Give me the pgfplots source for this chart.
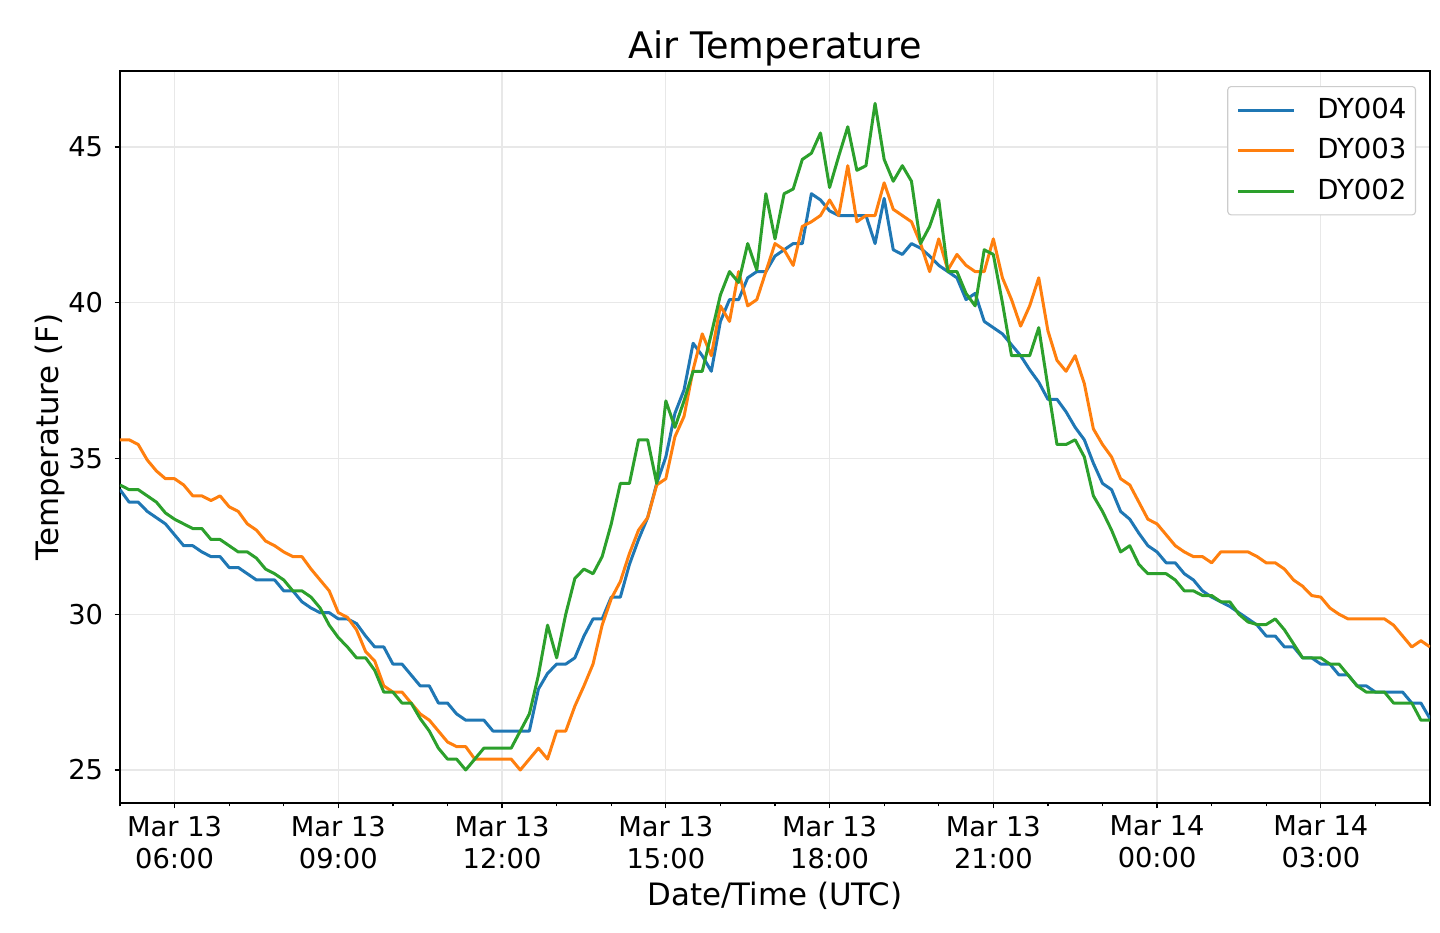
\documentclass[border=0pt]{standalone}
\usepackage{pgfplots}
\pgfplotsset{compat=1.18}
\usepackage{pgfplotstable}
\usepackage{fontspec}
\setmainfont{DejaVu Sans}
\definecolor{cA}{HTML}{1F77B4}
\definecolor{cB}{HTML}{FF7F0E}
\definecolor{cC}{HTML}{2CA02C}
% k = 10-minute step from Mar 13 05:00; b = DY004, o = DY003, g = DY002
\pgfplotstableread{
k b o g
0 34.0 35.6 34.15
1 33.6 35.6 34.0
2 33.6 35.45 34.0
3 33.3 34.95 33.8
4 33.1 34.6 33.6
5 32.9 34.35 33.25
6 32.55 34.35 33.05
7 32.2 34.15 32.9
8 32.2 33.8 32.75
9 32.0 33.8 32.75
10 31.85 33.65 32.4
11 31.85 33.8 32.4
12 31.5 33.45 32.2
13 31.5 33.3 32.0
14 31.3 32.9 32.0
15 31.1 32.7 31.8
16 31.1 32.35 31.45
17 31.1 32.2 31.3
18 30.75 32.0 31.1
19 30.75 31.85 30.75
20 30.4 31.85 30.75
21 30.2 31.45 30.55
22 30.05 31.1 30.2
23 30.05 30.75 29.65
24 29.85 30.05 29.25
25 29.85 29.9 28.95
26 29.7 29.5 28.6
27 29.3 28.8 28.6
28 28.95 28.5 28.2
29 28.95 27.7 27.5
30 28.4 27.5 27.5
31 28.4 27.5 27.15
32 28.05 27.15 27.15
33 27.7 26.8 26.65
34 27.7 26.6 26.25
35 27.15 26.25 25.7
36 27.15 25.9 25.35
37 26.8 25.75 25.35
38 26.6 25.75 25.0
39 26.6 25.35 25.35
40 26.6 25.35 25.7
41 26.25 25.35 25.7
42 26.25 25.35 25.7
43 26.25 25.35 25.7
44 26.25 25.0 26.25
45 26.25 25.35 26.8
46 27.6 25.7 28.05
47 28.1 25.35 29.65
48 28.4 26.25 28.6
49 28.4 26.25 30.0
50 28.6 27.05 31.15
51 29.3 27.7 31.45
52 29.85 28.4 31.3
53 29.85 29.65 31.85
54 30.55 30.5 32.9
55 30.55 31.05 34.2
56 31.6 31.95 34.2
57 32.4 32.7 35.6
58 33.1 33.1 35.6
59 34.2 34.15 34.2
60 35.05 34.35 36.85
61 36.45 35.7 36.0
62 37.2 36.35 36.85
63 38.7 37.85 37.8
64 38.3 39.0 37.8
65 37.8 38.3 39.0
66 39.4 39.9 40.25
67 40.1 39.4 41.0
68 40.1 41.0 40.65
69 40.8 39.9 41.9
70 41.0 40.1 41.05
71 41.0 41.0 43.5
72 41.5 41.9 42.05
73 41.7 41.7 43.5
74 41.9 41.2 43.65
75 41.9 42.45 44.6
76 43.5 42.6 44.8
77 43.3 42.8 45.45
78 42.95 43.3 43.7
79 42.8 42.8 44.7
80 42.8 44.4 45.65
81 42.8 42.6 44.25
82 42.8 42.8 44.4
83 41.9 42.8 46.4
84 43.35 43.85 44.6
85 41.7 43.0 43.9
86 41.55 42.8 44.4
87 41.9 42.6 43.9
88 41.75 41.9 41.9
89 41.5 41.0 42.45
90 41.2 42.05 43.3
91 41.0 41.05 41.0
92 40.8 41.55 41.0
93 40.1 41.2 40.3
94 40.3 41.0 39.9
95 39.4 41.0 41.7
96 39.2 42.05 41.55
97 39.0 40.8 40.0
98 38.65 40.1 38.3
99 38.3 39.25 38.3
100 37.85 39.9 38.3
101 37.45 40.8 39.2
102 36.9 39.1 37.3
103 36.9 38.15 35.45
104 36.5 37.8 35.45
105 36.0 38.3 35.6
106 35.6 37.4 35.05
107 34.85 35.95 33.8
108 34.2 35.45 33.3
109 34.0 35.05 32.7
110 33.3 34.35 32.0
111 33.05 34.15 32.2
112 32.6 33.6 31.6
113 32.2 33.05 31.3
114 32.0 32.9 31.3
115 31.65 32.55 31.3
116 31.65 32.2 31.1
117 31.3 32.0 30.75
118 31.1 31.85 30.75
119 30.75 31.85 30.6
120 30.55 31.65 30.6
121 30.4 32.0 30.4
122 30.25 32.0 30.4
123 30.05 32.0 30.0
124 29.85 32.0 29.75
125 29.65 31.85 29.67
126 29.3 31.65 29.67
127 29.3 31.65 29.85
128 28.95 31.45 29.5
129 28.95 31.1 29.05
130 28.6 30.9 28.6
131 28.6 30.6 28.6
132 28.4 30.55 28.6
133 28.4 30.2 28.4
134 28.05 30.0 28.4
135 28.05 29.85 28.05
136 27.7 29.85 27.7
137 27.7 29.85 27.5
138 27.5 29.85 27.5
139 27.5 29.85 27.5
140 27.5 29.65 27.15
141 27.5 29.3 27.15
142 27.15 28.95 27.15
143 27.15 29.15 26.6
144 26.65 28.95 26.6
}\airtemp
\begin{document}
\begin{tikzpicture}
\path[use as bounding box] (0pt,0pt) rectangle (527.47pt,341.76pt);
\begin{axis}[
  at={(43.956pt,47.619pt)}, anchor=south west,
  scale only axis, width=479.85pt, height=268.13pt,
  xmin=5, xmax=29, ymin=23.94, ymax=47.44,
  xtick={6,9,12,15,18,21,24,27},
  xticklabels={{Mar 13\\06:00},{Mar 13\\09:00},{Mar 13\\12:00},{Mar 13\\15:00},{Mar 13\\18:00},{Mar 13\\21:00},{Mar 14\\00:00},{Mar 14\\03:00}},
  minor xtick={5,7,8,10,11,13,14,16,17,19,20,22,23,25,26,28,29},
  ytick={25,30,35,40,45},
  tick align=outside, tick pos=left,
  major tick length=2.0pt, minor tick length=1.2pt,
  every tick/.style={black, line width=0.45pt},
  grid=major,
  major grid style={black!9, line width=0.45pt},
  axis line style={line width=0.55pt},
  /pgf/number format/assume math mode=true,
  ticklabel style={font=\fontsize{10}{11.7}\selectfont},
  xticklabel style={align=center, inner sep=0pt, yshift=-2.5pt},
  yticklabel style={inner sep=0pt, xshift=-4pt},
  title={Air Temperature},
  title style={font=\fontsize{13.4}{16}\selectfont, at={(axis description cs:0.5,1)}, anchor=base, yshift=-1.6pt},
  xlabel={Date/Time (UTC)},
  xlabel style={font=\fontsize{11.3}{13}\selectfont, at={(axis description cs:0.5,0)}, anchor=base, yshift=-37.4pt},
  ylabel={Temperature (F)},
  ylabel style={font=\fontsize{11.3}{13}\selectfont, at={(axis description cs:-0.0466,0.5)}, anchor=base},
  legend image code/.code={\draw[#1] (0pt,0pt) -- (20.5pt,0pt); \path (28.4pt,0pt);},
  legend style={at={(axis description cs:1,1)}, anchor=north east, xshift=-5.1pt, yshift=-5.5pt,
    draw=black!20, line width=0.4pt, rounded corners=1.2pt, fill=white,
    font=\fontsize{10.1}{11.5}\selectfont, inner xsep=3.3pt, inner ysep=4.2pt,
    row sep=5.8pt, column sep=0pt, nodes={inner sep=0pt}},
  legend cell align=left,
]
\addplot[cA, line width=1.1pt, line join=round] table[x expr={5+\thisrow{k}/6}, y=b] {\airtemp};
\addlegendentry{DY004}
\addplot[cB, line width=1.1pt, line join=round] table[x expr={5+\thisrow{k}/6}, y=o] {\airtemp};
\addlegendentry{DY003}
\addplot[cC, line width=1.1pt, line join=round] table[x expr={5+\thisrow{k}/6}, y=g] {\airtemp};
\addlegendentry{DY002}
\end{axis}
\end{tikzpicture}
\end{document}
